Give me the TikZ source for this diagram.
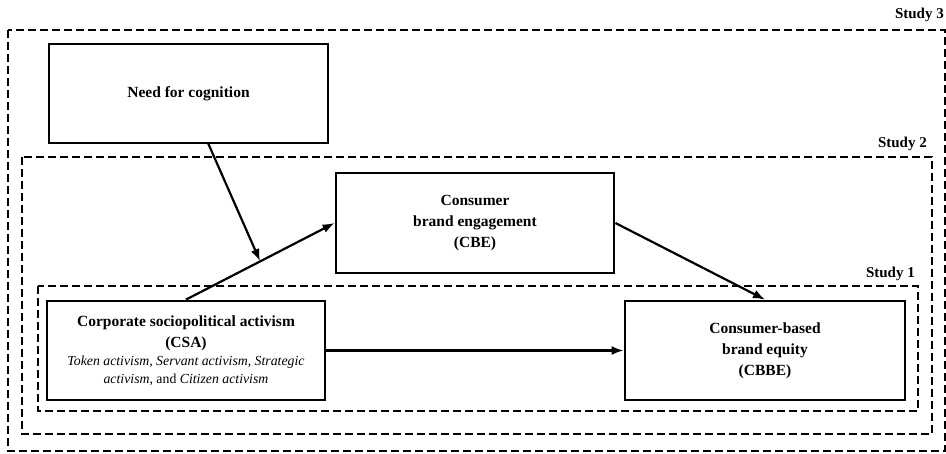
\documentclass[tikz,border=0pt]{standalone}
\usepackage{fontspec}
\setmainfont{Liberation Serif}
\usetikzlibrary{arrows.meta}
\begin{document}
\begin{tikzpicture}[x=1pt,y=-1pt,
  box/.style={draw,line width=2.8pt,rectangle,inner sep=0pt,align=center,font=\fontsize{15.5}{21}\selectfont\bfseries},
  frame/.style={draw,line width=2.4pt,dash pattern=on 8pt off 4pt},
  studylbl/.style={anchor=base east,inner sep=0pt,font=\fontsize{15}{18}\selectfont\bfseries},
  arr/.style={line width=2.2pt,-{Latex[length=12pt,width=9pt]}}]
\useasboundingbox (0,0) rectangle (946,453);
\fill[white] (0,0) rectangle (946,453);
% frames
\draw[frame] (8,30) rectangle (945,451);
\draw[frame] (22,157) rectangle (932,434);
\draw[frame] (38,286) rectangle (918,411);
\node[studylbl] (s3) at (944,18) {Study 3};
\node[studylbl] (s2) at (927,147) {Study 2};
\node[studylbl] (s1) at (915,277) {Study 1};
% boxes
\node[box,minimum width=279pt,minimum height=99pt] (need) at (188.5,93.5) {Need for cognition};
\node[box,minimum width=278pt,minimum height=100pt] (cbe) at (475,223) {Consumer\\brand engagement\\(CBE)};
\node[box,minimum width=278pt,minimum height=99pt] (csa) at (186,350.5) {Corporate sociopolitical activism\\(CSA)\\[-3pt]
  {\fontsize{13.8}{17}\selectfont\mdseries\itshape Token activism\upshape, \itshape Servant activism\upshape, \itshape Strategic}\\[-3pt]
  {\fontsize{13.8}{17}\selectfont\mdseries\itshape activism\upshape, and \itshape Citizen activism}};
\node[box,minimum width=280pt,minimum height=99pt] (cbbe) at (765,350.5) {Consumer-based\\brand equity\\(CBBE)};
% connectors
\coordinate (needout) at (208,143);
\coordinate (mod) at (260,261);
\draw[arr] (csa.north) -- (cbe.west);
\draw[arr] (needout) -- (mod);
\draw[arr] (cbe.east) -- (cbbe.north);
\draw[arr] (csa.east) -- (cbbe.west);
\end{tikzpicture}
\end{document}
